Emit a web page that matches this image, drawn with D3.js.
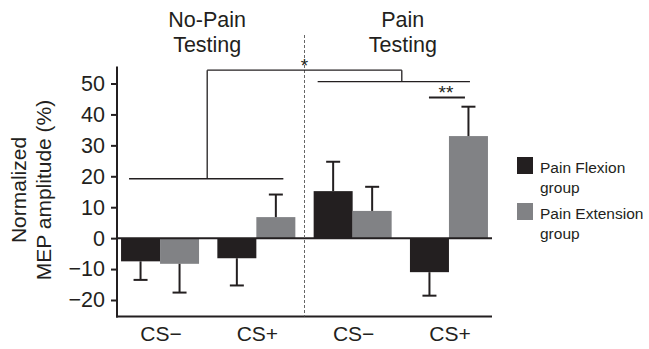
<!DOCTYPE html>
<html>
<head>
<meta charset="utf-8">
<script src="https://cdn.jsdelivr.net/npm/d3@7"></script>
<style>
  body { margin: 0; background: #fff; }
  svg { font-family: "Liberation Sans", Arial, Helvetica, sans-serif; }
  .axis path, .axis line { stroke: #231f20; stroke-width: 2px; }
  .axis text { font-size: 21.5px; fill: #231f20; }
</style>
</head>
<body>
<div id="chart"></div>
<script>
// data
var conditions = ["np-cs-", "np-cs+", "p-cs-", "p-cs+"];
var condLabels = ["CS\u2212", "CS+", "CS\u2212", "CS+"];
var panelTitles = [["No-Pain", "Testing"], ["Pain", "Testing"]];
var groups = ["Pain Flexion group", "Pain Extension group"];
var flexionMeans = [-7.5, -6.5, 15.2, -11];
var flexionErr = [-13.5, -15.3, 24.7, -18.6];
var extensionMeans = [-8.3, 6.8, 8.8, 33];
var extensionErr = [-17.6, 14.1, 16.6, 42.5];
var yTicks = [-20, -10, 0, 10, 20, 30, 40, 50];

var W = 649, H = 349;
var colors = ["#231f20", "#818285"];

var svg = d3.select("#chart").append("svg")
  .attr("width", W).attr("height", H);

//scales
var x = d3.scalePoint().domain(conditions).range([117, 492]).padding(0.447);
var y = d3.scaleLinear().domain([-20, 50]).range([300, 83.5]);
var barW = 39;
var axisTop = y(55.5), axisBot = y(-25.3);

//bars
var series = [flexionMeans, extensionMeans];
var errs = [flexionErr, extensionErr];
series.forEach(function(vals, gi){
  var g = svg.append("g").attr("class", "bars g" + gi);
  g.selectAll("rect").data(vals).enter().append("rect")
    .attr("x", function(d, i){ return x(conditions[i]) - barW + gi * barW; })
    .attr("width", barW)
    .attr("y", function(d){ return y(Math.max(0, d)); })
    .attr("height", function(d){ return Math.abs(y(d) - y(0)); })
    .attr("fill", colors[gi]);

  //error bars
  var eg = svg.append("g").attr("class", "err");
  errs[gi].forEach(function(e, i){
    var cx = x(conditions[i]) - barW / 2 + gi * barW;
    eg.append("line").attr("x1", cx).attr("x2", cx)
      .attr("y1", y(vals[i])).attr("y2", y(e))
      .attr("stroke", "#231f20").attr("stroke-width", 2);
    eg.append("line").attr("x1", cx - 7).attr("x2", cx + 7)
      .attr("y1", y(e)).attr("y2", y(e))
      .attr("stroke", "#231f20").attr("stroke-width", 2);
  });
});

//Axes
svg.append("g")
  .attr("class", "axis")
  .attr("transform", "translate(117,0)")
  .call(d3.axisLeft(y).tickValues(yTicks).tickSize(6).tickPadding(6)
    .tickFormat(function(d){ return d < 0 ? "\u2212" + Math.abs(d) : d; }))
  .call(function(g){ g.select(".domain").remove(); });

svg.append("line").attr("x1", 117).attr("x2", 117)
  .attr("y1", axisTop).attr("y2", axisBot + 1)
  .attr("stroke", "#231f20").attr("stroke-width", 2);
svg.append("line").attr("x1", 116).attr("x2", 492)
  .attr("y1", axisBot).attr("y2", axisBot)
  .attr("stroke", "#231f20").attr("stroke-width", 2);
// zero line
svg.append("line").attr("x1", 117).attr("x2", 492)
  .attr("y1", y(0)).attr("y2", y(0))
  .attr("stroke", "#231f20").attr("stroke-width", 2);

svg.append("g").selectAll("text").data(conditions).enter().append("text")
  .attr("x", function(d){ return x(d) + 1; })
  .attr("y", 341)
  .attr("text-anchor", "middle")
  .style("font-size", "21px").style("fill", "#231f20")
  .text(function(d, i){ return condLabels[i]; });

//divider
var midX = (x(conditions[1]) + x(conditions[2])) / 2;
svg.append("line").attr("x1", midX).attr("x2", midX)
  .attr("y1", 35).attr("y2", axisBot)
  .attr("stroke", "#666").attr("stroke-width", 1)
  .attr("stroke-dasharray", "3,2");

//panel titles
var titleX = [(x(conditions[0]) + x(conditions[1])) / 2, (x(conditions[2]) + x(conditions[3])) / 2 + 3];
panelTitles.forEach(function(t, i){
  svg.append("text").attr("x", titleX[i] - 1).attr("text-anchor", "middle")
    .style("font-size", "21.5px").style("fill", "#231f20")
    .selectAll("tspan").data(t).enter().append("tspan")
    .attr("x", titleX[i] - 1)
    .attr("y", function(d, j){ return 27 + j * 25; })
    .text(function(d){ return d; });
});

//y title
svg.append("text")
  .attr("transform", "translate(26," + 190 + ") rotate(-90)")
  .attr("text-anchor", "middle")
  .style("font-size", "21px").style("fill", "#231f20")
  .selectAll("tspan").data(["Normalized", "MEP amplitude (%)"]).enter().append("tspan")
  .attr("x", 0).attr("y", function(d, j){ return 0 + j * 25; })
  .text(function(d){ return d; });

//significance brackets
var br = svg.append("g").attr("stroke", "#231f20").attr("stroke-width", 1.3).attr("fill", "none");
var c = conditions.map(function(d){ return x(d); });
var leftMid = (c[0] + c[1]) / 2 - 1;
var rightMid = (c[2] + c[3]) / 2 + 1;
br.append("line").attr("x1", c[0] - 31).attr("x2", c[1] + 27).attr("y1", y(19.2)).attr("y2", y(19.2));
br.append("line").attr("x1", leftMid).attr("x2", leftMid).attr("y1", y(19.2)).attr("y2", y(54.3));
br.append("line").attr("x1", leftMid).attr("x2", rightMid).attr("y1", y(54.3)).attr("y2", y(54.3));
br.append("line").attr("x1", rightMid).attr("x2", rightMid).attr("y1", y(54.3)).attr("y2", y(50.6));
br.append("line").attr("x1", c[2] - 35).attr("x2", c[3] + 21).attr("y1", y(50.6)).attr("y2", y(50.6));
br.append("line").attr("x1", c[3] - 20).attr("x2", c[3] + 16).attr("y1", y(45.5)).attr("y2", y(45.5))
  .attr("stroke-width", 2);

svg.append("text").attr("x", midX).attr("y", y(54.3) + 2).attr("text-anchor", "middle")
  .style("font-size", "19px").style("fill", "#231f20").text("*");
svg.append("text").attr("x", c[3] - 3).attr("y", y(45.5) + 2).attr("text-anchor", "middle")
  .style("font-size", "19px").style("fill", "#231f20").text("**");

//legend
var leg = svg.append("g").attr("transform", "translate(517,157)");
groups.forEach(function(gname, i){
  var lg = leg.append("g").attr("transform", "translate(0," + i * 46 + ")");
  lg.append("rect").attr("width", 16).attr("height", 17).attr("fill", colors[i]);
  var words = gname.split(" ");
  lg.append("text").style("font-size", "15.5px").style("fill", "#231f20")
    .selectAll("tspan").data([words.slice(0, 2).join(" "), words[2]]).enter().append("tspan")
    .attr("x", 23).attr("y", function(d, j){ return 16 + j * 19.5; })
    .text(function(d){ return d; });
});
</script>
</body>
</html>
